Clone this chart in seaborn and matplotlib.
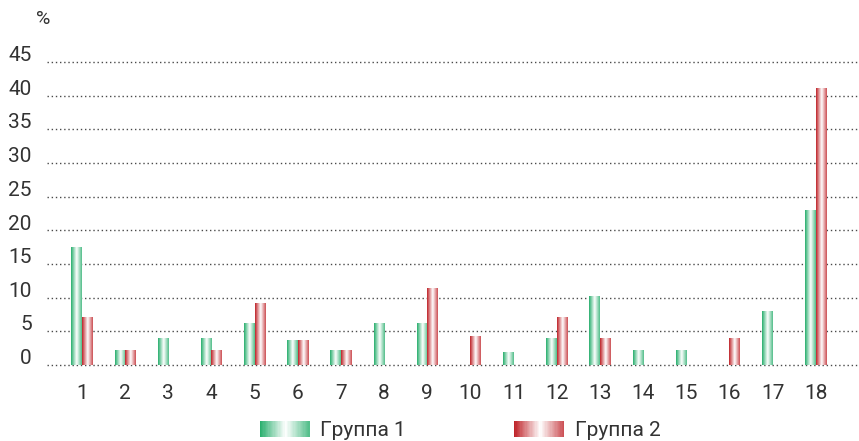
import numpy as np
import pandas as pd
import matplotlib
matplotlib.use("Agg")
import matplotlib.pyplot as plt
import seaborn as sns
from matplotlib.colors import LinearSegmentedColormap, to_rgb
from matplotlib.patches import Rectangle
from matplotlib.legend_handler import HandlerBase
from matplotlib.transforms import ScaledTranslation

# data
categories = [str(i) for i in range(1, 19)]
group1 = [17.4, 2.2, 4.0, 4.0, 6.1, 3.7, 2.2, 6.1, 6.1, 0, 1.9, 3.9, 10.1, 2.1, 2.1, 0, 8.0, 23.0]
group2 = [7.1, 2.2, 0, 2.2, 9.2, 3.7, 2.2, 0, 11.3, 4.2, 0, 7.0, 3.9, 0, 0, 3.9, 0, 41.1]
series_names = ["Группа 1", "Группа 2"]
yticks = [0, 5, 10, 15, 20, 25, 30, 35, 40, 45]

green = "#25ad6b"
red = "#be2026"
text_color = "#333333"


def fade_cmap(c):
    r = np.array(to_rgb(c))
    light = r + (1 - r) * 0.2
    return LinearSegmentedColormap.from_list(
        "fade", [(0, r), (0.52, (1, 1, 1)), (1, light)])


cmaps = [fade_cmap(green), fade_cmap(red)]

df = pd.DataFrame({
    "cat": categories * 2,
    "value": group1 + group2,
    "group": [series_names[0]] * len(categories) + [series_names[1]] * len(categories),
})

sns.set_style("white")
plt.rcParams["font.family"] = ["Roboto", "DejaVu Sans"]

fig = plt.figure(figsize=(8.59, 4.41), dpi=100)
ax = fig.add_axes([47 / 859, (441 - 365) / 441, 1 - 47 / 859, (365 - 62) / 441])

sns.barplot(data=df, x="cat", y="value", hue="group", hue_order=series_names,
            order=categories, width=0.49, gap=0, palette=[green, red],
            legend=False, ax=ax)

# repaint every bar with a horizontal fade
grad = np.linspace(0, 1, 256).reshape(1, -1)
for cont, cm in zip(ax.containers, cmaps):
    for bar in cont:
        x, w, h = bar.get_x(), bar.get_width(), bar.get_height()
        bar.set_visible(False)
        if h <= 0:
            continue
        ax.imshow(grad, cmap=cm, extent=[x, x + w, 0, h], aspect="auto",
                  interpolation="bilinear", zorder=3)

ax.set_xlim(-0.81, 18.0)
ax.set_ylim(0, 45)
ax.set_yticks(yticks)
ax.set_xlabel("")
ax.set_ylabel("")
sns.despine(ax=ax, left=True, bottom=True)
ax.set_axisbelow(True)
ax.yaxis.grid(True, color="#4a4a4a", linestyle=(0, (1, 2)), linewidth=1.0)
for gl in ax.get_ygridlines():
    gl.set_clip_on(False)
ax.xaxis.grid(False)
ax.tick_params(axis="both", length=0, labelsize=15, colors=text_color)
ax.tick_params(axis="y", pad=11)
ax.tick_params(axis="x", pad=14)
for lab in ax.get_yticklabels():
    lab.set_transform(lab.get_transform() + ScaledTranslation(0, 6 / 72, fig.dpi_scale_trans))

fig.text(43 / 859, 1 - 19 / 441, "%", ha="center", va="center",
         fontsize=14, color=text_color)


class FadeHandler(HandlerBase):
    def __init__(self, cm):
        super().__init__()
        self.cm = cm

    def create_artists(self, legend, orig_handle, xdescent, ydescent, width, height, fontsize, trans):
        n = 40
        arts = []
        for i in range(n):
            r = Rectangle((-xdescent + width * i / n, -ydescent - 1), width / n * 1.05, height + 2,
                          facecolor=self.cm((i + 0.5) / n), edgecolor="none", transform=trans)
            arts.append(r)
        return arts


h1 = Rectangle((0, 0), 1, 1)
h2 = Rectangle((0, 0), 1, 1)
fig.legend([h1, h2], series_names, loc="center", bbox_to_anchor=(460 / 859, 1 - 431 / 441),
           ncol=2, frameon=False, fontsize=15, handlelength=2.4, handleheight=0.6,
           handletextpad=0.5, columnspacing=5.2, labelcolor=text_color,
           handler_map={h1: FadeHandler(cmaps[0]), h2: FadeHandler(cmaps[1])})

fig.savefig("out.png", dpi=100)
